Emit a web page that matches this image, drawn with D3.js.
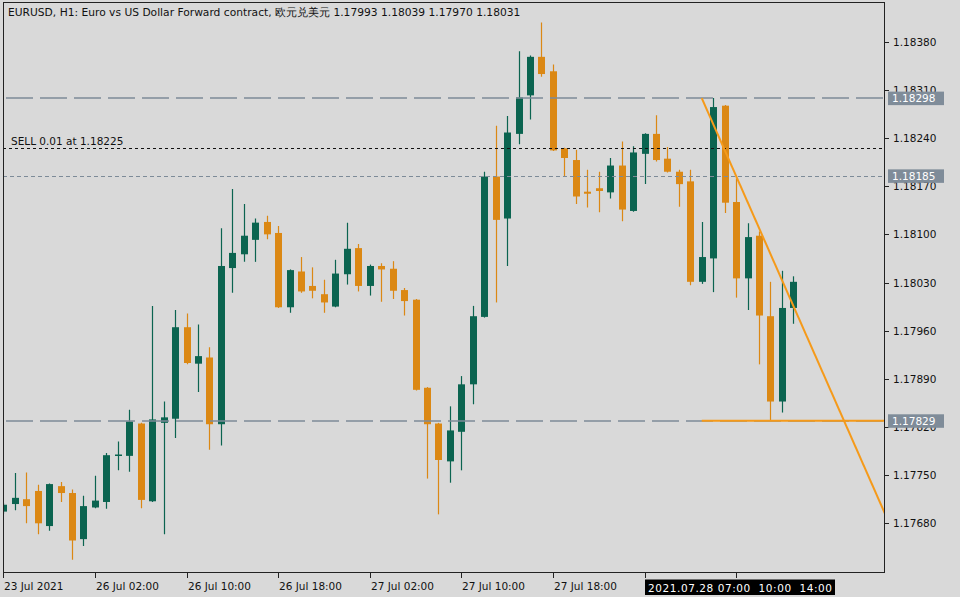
<!DOCTYPE html>
<html>
<head>
<meta charset="utf-8">
<script src="https://cdn.jsdelivr.net/npm/d3@7"></script>
<style>
  html, body { margin: 0; padding: 0; background: #d9d9d9; }
  svg { display: block; }
  text { font-family: "DejaVu Sans", sans-serif; }
</style>
</head>
<body>
<svg id="chart" width="960" height="597"></svg>
<script>
// ---------- DATA ----------
const titleText = "EURUSD, H1:  Euro vs US Dollar Forward contract, 欧元兑美元  1.17993 1.18039 1.17970 1.18031";

const opens  = [1.17697,1.17708,1.17715,1.17727,1.17676,1.17734,1.17724,1.17657,1.17703,1.17711,
                1.17778,1.17778,1.17825,1.17712,1.17826,1.17832,1.17965,1.17912,1.17921,1.17824,
                1.18051,1.18071,1.18092,1.18118,1.18102,1.17994,1.18046,1.18025,1.18013,1.17995,
                1.18042,1.18080,1.18025,1.18054,1.18050,1.18019,1.18005,1.17877,1.17825,1.17770,
                1.17813,1.17882,1.17980,1.18184,1.18123,1.18246,1.18302,1.18358,1.18337,1.18225,
                1.18208,1.18162,1.18167,1.18161,1.18200,1.18134,1.18217,1.18246,1.18210,1.18191,
                1.18177,1.18031,1.18065,1.18287,1.18147,1.18036,1.18098,1.17981,1.17857,1.17993];
const highs  = [1.17710,1.17753,1.17754,1.17736,1.17738,1.17740,1.17729,1.17720,1.17749,1.17782,
                1.17799,1.17845,1.17826,1.17996,1.17857,1.17990,1.17985,1.17969,1.17936,1.18109,
                1.18166,1.18144,1.18123,1.18127,1.18112,1.18049,1.18067,1.18052,1.18034,1.18063,
                1.18117,1.18086,1.18056,1.18058,1.18061,1.18022,1.18006,1.17878,1.17826,1.17850,
                1.17894,1.17996,1.18191,1.18258,1.18272,1.18366,1.18360,1.18408,1.18347,1.18226,
                1.18223,1.18194,1.18191,1.18211,1.18235,1.18228,1.18247,1.18273,1.18227,1.18194,
                1.18194,1.18118,1.18298,1.18288,1.18181,1.18116,1.18104,1.18031,1.18047,1.18039];
const lows   = [1.17694,1.17699,1.17680,1.17664,1.17669,1.17711,1.17627,1.17647,1.17702,1.17701,
                1.17757,1.17755,1.17702,1.17711,1.17664,1.17804,1.17911,1.17871,1.17787,1.17793,
                1.18015,1.18060,1.18060,1.18093,1.17993,1.17986,1.18015,1.18007,1.17986,1.17994,
                1.18027,1.18017,1.18011,1.18002,1.18006,1.17982,1.17873,1.17745,1.17693,1.17739,
                1.17757,1.17853,1.17979,1.18001,1.18054,1.18231,1.18267,1.18329,1.18221,1.18184,
                1.18144,1.18139,1.18132,1.18152,1.18119,1.18133,1.18173,1.18206,1.18190,1.18140,
                1.18026,1.18028,1.18016,1.18131,1.18008,1.17990,1.17911,1.17829,1.17841,1.17970];
const closes = [1.17707,1.17717,1.17705,1.17680,1.17737,1.17724,1.17655,1.17705,1.17713,1.17779,
                1.17780,1.17828,1.17714,1.17831,1.17834,1.17965,1.17913,1.17923,1.17824,1.18054,
                1.18073,1.18098,1.18117,1.18100,1.17994,1.18048,1.18017,1.18018,1.18001,1.18043,
                1.18079,1.18025,1.18054,1.18049,1.18018,1.18003,1.17874,1.17824,1.17772,1.17815,
                1.17882,1.17981,1.18184,1.18121,1.18248,1.18299,1.18358,1.18333,1.18222,1.18211,
                1.18155,1.18159,1.18163,1.18200,1.18136,1.18219,1.18246,1.18208,1.18191,1.18173,
                1.18031,1.18067,1.18285,1.18146,1.18036,1.18096,1.17982,1.17857,1.17993,1.18031];

const priceTicks = [1.18380,1.18310,1.18240,1.18170,1.18100,1.18030,1.17960,1.17890,1.17820,1.17750,1.17680];
// Visible time labels (the later ticks at bars 56, 64 are covered by the black time box)
const timeTickBars = [0,8,16,24,32,40,48,56,64];
const timeTickLabels = ["23 Jul 2021","26 Jul 02:00","26 Jul 10:00","26 Jul 18:00","27 Jul 02:00",
                        "27 Jul 10:00","27 Jul 18:00"];

const longDashLevels = [1.18298, 1.17829];
const gridDotLevel = 1.18185;
const sellLevel = 1.18225;
const sellLabel = "SELL 0.01 at 1.18225";
const levelLabels = [1.18298, 1.18185, 1.17829];

// Trendline anchors (bar index, price) and horizontal segment
const trendStart = [61, 1.18298];
const trendEnd   = [69, 1.17996];
const hSegStartBar = 61;
const hSegPrice = 1.17829;

const cursorText = "2021.07.28 07:00  10:00  14:00";

// ---------- LAYOUT ----------
const W = 960, H = 597;
const plotL = 3, plotR = 884, plotT = 2, plotB = 572;
const green = "#0b6450", orange = "#db8814", lineGray = "#7d8b98", trendColor = "#f59a1a";

const svg = d3.select("#chart");
svg.append("rect").attr("width", W).attr("height", H).attr("fill", "#d9d9d9");

const x = d3.scaleLinear().domain([0, 69]).range([3.3, 793.35]);
const y = d3.scaleLinear().domain([1.17680, 1.18380]).range([523.3, 41.7]);

svg.append("clipPath").attr("id", "plotclip")
  .append("rect").attr("x", plotL + 0.5).attr("y", plotT + 0.5)
  .attr("width", plotR - plotL - 0.5).attr("height", plotB - plotT - 0.5);

const plot = svg.append("g").attr("clip-path", "url(#plotclip)");

// Candles
const bars = d3.range(opens.length).map(i => ({
  i, o: opens[i], h: highs[i], l: lows[i], c: closes[i]
}));
const cg = plot.append("g");
bars.forEach(b => {
  const cx = Math.round(x(b.i));
  const col = b.c >= b.o ? green : orange;
  cg.append("line")
    .attr("x1", cx + 0.5).attr("x2", cx + 0.5)
    .attr("y1", y(b.h)).attr("y2", y(b.l))
    .attr("stroke", col).attr("stroke-width", 1.2);
  const top = y(Math.max(b.o, b.c)), bot = y(Math.min(b.o, b.c));
  cg.append("rect")
    .attr("x", cx - 3).attr("width", 7)
    .attr("y", top).attr("height", Math.max(1.5, bot - top))
    .attr("fill", col);
});

// Horizontal level lines
longDashLevels.forEach(p => {
  plot.append("line")
    .attr("x1", plotL).attr("x2", plotR)
    .attr("y1", Math.round(y(p))).attr("y2", Math.round(y(p)))
    .attr("stroke", lineGray).attr("stroke-width", 1.6)
    .attr("stroke-dasharray", "27,7").attr("stroke-dashoffset", -3);
});
plot.append("line")
  .attr("x1", plotL).attr("x2", plotR)
  .attr("y1", Math.round(y(gridDotLevel)) + 0.5).attr("y2", Math.round(y(gridDotLevel)) + 0.5)
  .attr("stroke", lineGray).attr("stroke-width", 1)
  .attr("stroke-dasharray", "4,3");
plot.append("line")
  .attr("x1", plotL).attr("x2", plotR)
  .attr("y1", Math.round(y(sellLevel)) + 0.5).attr("y2", Math.round(y(sellLevel)) + 0.5)
  .attr("stroke", "#111").attr("stroke-width", 1)
  .attr("stroke-dasharray", "3,3");
svg.append("text")
  .attr("x", 11).attr("y", Math.round(y(sellLevel)) - 3)
  .attr("font-size", 10.5).attr("fill", "#111")
  .text(sellLabel);

// Orange horizontal segment and trendline (ray)
plot.append("line")
  .attr("x1", x(hSegStartBar)).attr("x2", plotR)
  .attr("y1", y(hSegPrice)).attr("y2", y(hSegPrice))
  .attr("stroke", trendColor).attr("stroke-width", 2);
const tx1 = x(trendStart[0]), ty1 = y(trendStart[1]);
const tx2 = x(trendEnd[0]), ty2 = y(trendEnd[1]);
const slope = (ty2 - ty1) / (tx2 - tx1);
plot.append("line")
  .attr("x1", tx1).attr("y1", ty1)
  .attr("x2", plotR + 10).attr("y2", ty1 + slope * (plotR + 10 - tx1))
  .attr("stroke", trendColor).attr("stroke-width", 2);

// Frame
svg.append("rect")
  .attr("x", plotL + 0.5).attr("y", plotT + 0.5)
  .attr("width", plotR - plotL).attr("height", plotB - plotT)
  .attr("fill", "none").attr("stroke", "#222").attr("stroke-width", 1);

// Right price axis
const ya = svg.append("g");
priceTicks.forEach(p => {
  const yy = Math.round(y(p)) + 0.5;
  ya.append("line").attr("x1", plotR).attr("x2", plotR + 5)
    .attr("y1", yy).attr("y2", yy).attr("stroke", "#222");
  ya.append("text").attr("x", plotR + 9).attr("y", yy).attr("dy", "0.35em")
    .attr("font-size", 10.5).attr("fill", "#111")
    .text(d3.format(".5f")(p));
});
levelLabels.forEach(p => {
  const yy = y(p);
  ya.append("rect").attr("x", plotR + 4).attr("y", yy - 6.5)
    .attr("width", 56).attr("height", 13.5).attr("fill", "#7f8c99");
  ya.append("text").attr("x", plotR + 8).attr("y", yy).attr("dy", "0.36em")
    .attr("font-size", 10.5).attr("fill", "#ffffff")
    .text(d3.format(".5f")(p));
});

// Bottom time axis
const xa = svg.append("g");
timeTickBars.forEach((b, k) => {
  const xx = Math.round(x(b)) + 0.5;
  xa.append("line").attr("x1", xx).attr("x2", xx)
    .attr("y1", plotB).attr("y2", plotB + 6).attr("stroke", "#222");
  if (k < timeTickLabels.length) {
    xa.append("text").attr("x", xx + 0.5).attr("y", 590)
      .attr("font-size", 10.5).attr("fill", "#111")
      .text(timeTickLabels[k]);
  }
});
// Object time label box
xa.append("rect").attr("x", 645).attr("y", 579.5).attr("width", 190).attr("height", 15.5).attr("fill", "#000");
xa.append("text").attr("x", 648).attr("y", 591.5)
  .attr("font-size", 10.5).attr("fill", "#fff")
  .attr("textLength", 184).attr("lengthAdjust", "spacing")
  .style("white-space", "pre")
  .text(cursorText);

// Title
svg.append("text").attr("x", 8).attr("y", 16)
  .attr("font-size", 10.7).attr("fill", "#111")
  .text(titleText);
</script>
</body>
</html>
